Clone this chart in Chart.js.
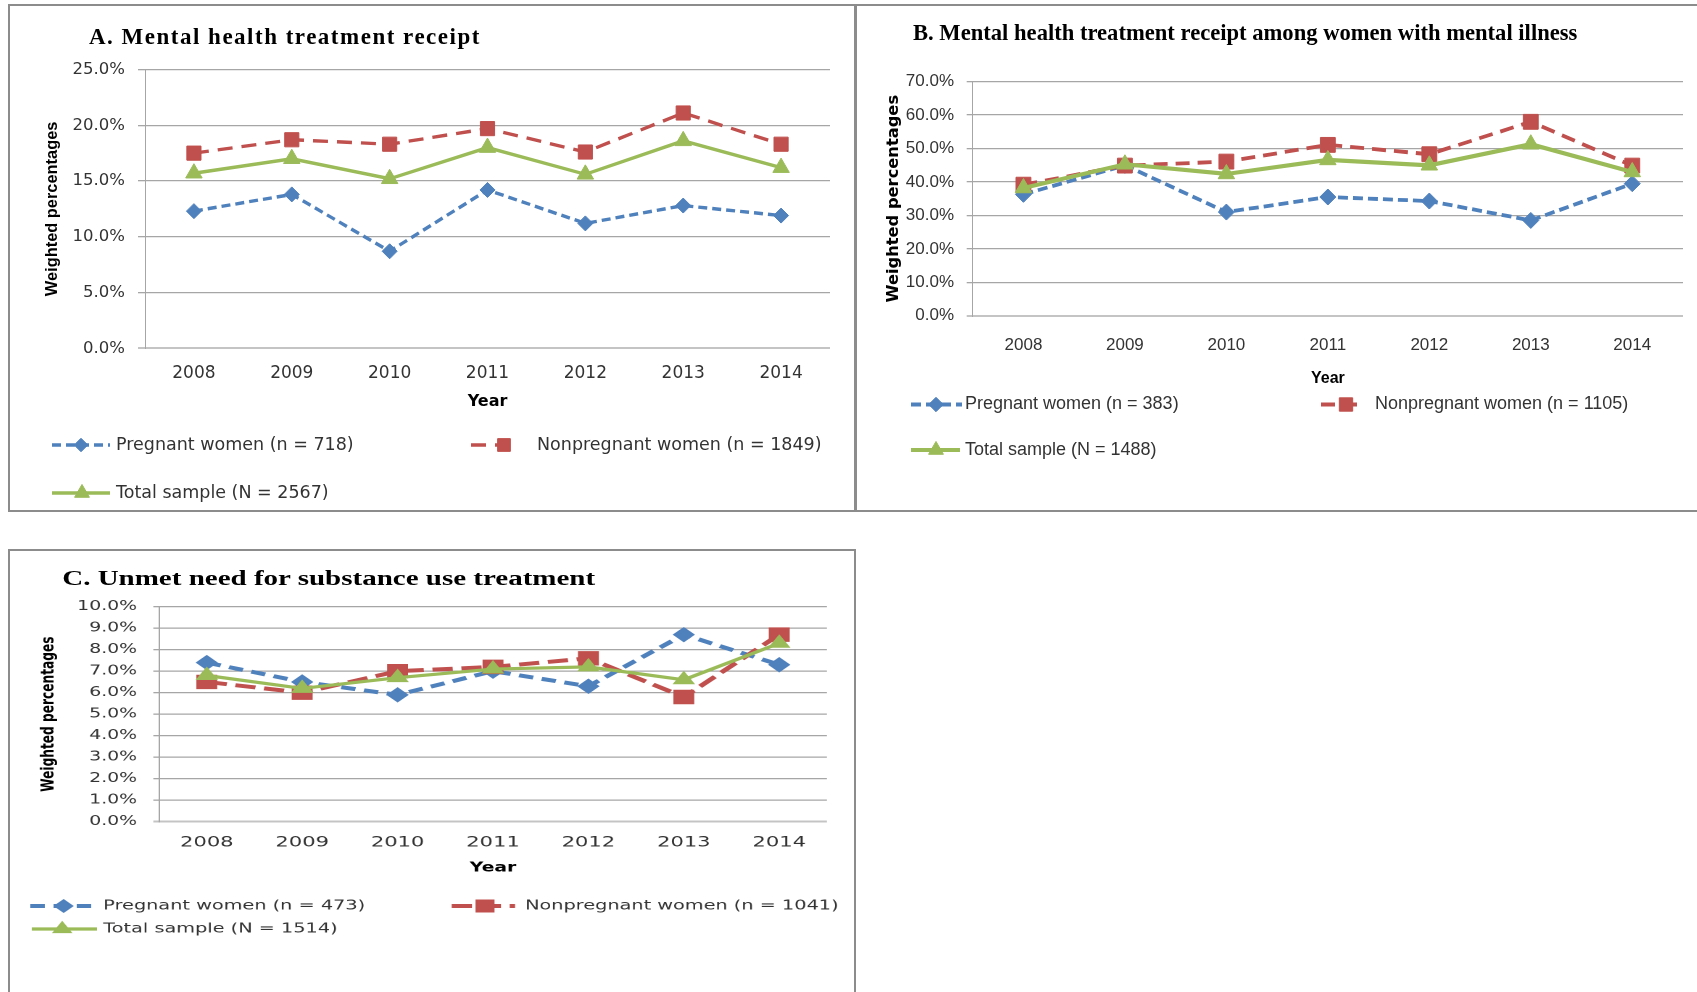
<!DOCTYPE html>
<html>
<head>
<meta charset="utf-8">
<script src="https://cdn.jsdelivr.net/npm/chart.js"></script>
<style>
  body { margin: 0; width: 1697px; height: 992px; overflow: hidden; background: #fff; position: relative; }
  .frame { position: absolute; box-sizing: border-box; border: 2px solid #8c8c8c; }
  .panel { position: absolute; }
  .panel canvas { position: absolute; left: 0; top: 0; }
  .title { position: absolute; white-space: nowrap; font-family: "Liberation Serif", serif; font-weight: bold; color: #000; }
  /* panel C of the source figure is stretched sideways, so draw it narrow and widen it */
  #panelC { transform: scaleX(1.45); transform-origin: 0 0; }
</style>
</head>
<body>
<div class="frame" style="left:8px;top:4px;width:848px;height:508px"></div>
<div class="frame" style="left:855px;top:4px;width:850px;height:508px"></div>
<div class="frame" style="left:8px;top:549px;width:848px;height:460px"></div>

<div class="panel" style="left:10px;top:6px;width:844px;height:505px">
  <canvas id="chartA" width="844" height="505"></canvas>
</div>
<div class="title" style="left:89px;top:25px;font-size:23px;line-height:23px;letter-spacing:1.5px">A. Mental health treatment receipt</div>

<div class="panel" style="left:857px;top:6px;width:840px;height:505px">
  <canvas id="chartB" width="840" height="505"></canvas>
</div>
<div class="title" style="left:913px;top:22px;font-size:22.6px;line-height:22.6px">B. Mental health treatment receipt among women with mental illness</div>

<div class="panel" id="panelC" style="left:10px;top:551px;width:582px;height:441px">
  <canvas id="chartC" width="582" height="441"></canvas>
  <div class="title" style="left:36px;top:17px;font-size:20px;line-height:20px">C. Unmet need for substance use treatment</div>
</div>

<script>
'use strict';

const years = ['2008', '2009', '2010', '2011', '2012', '2013', '2014'];

// A. Mental health treatment receipt (%)
const pregnantA = [12.3, 13.8, 8.7, 14.2, 11.2, 12.8, 11.9];
const nonpregnantA = [17.5, 18.7, 18.3, 19.7, 17.6, 21.1, 18.3];
const totalA = [15.7, 17.0, 15.2, 18.0, 15.6, 18.6, 16.2];
const labelsA = ['Pregnant women (n = 718)', 'Nonpregnant women (n = 1849)', 'Total sample (N = 2567)'];

// B. Mental health treatment receipt among women with mental illness (%)
const pregnantB = [36.3, 45.0, 31.0, 35.5, 34.3, 28.5, 39.5];
const nonpregnantB = [39.2, 44.9, 46.1, 51.1, 48.3, 58.0, 44.9];
const totalB = [38.2, 45.3, 42.4, 46.6, 45.0, 51.3, 43.0];
const labelsB = ['Pregnant women (n = 383)', 'Nonpregnant women (n = 1105)', 'Total sample (N = 1488)'];

// C. Unmet need for substance use treatment (%)
const pregnantC = [7.4, 6.5, 5.9, 7.0, 6.3, 8.7, 7.3];
const nonpregnantC = [6.5, 6.0, 7.0, 7.2, 7.6, 5.8, 8.7];
const totalC = [6.8, 6.2, 6.7, 7.1, 7.2, 6.6, 8.3];
const labelsC = ['Pregnant women (n = 473)', 'Nonpregnant women (n = 1041)', 'Total sample (N = 1514)'];

const BLUE = '#4F81BD';
const RED = '#C0504D';
const GREEN = '#9BBB59';
const GRID = '#a6a6a6';

/**
 * Excel style legend: a short piece of the series line with its marker in the middle.
 */
const lineLegend = {
    id: 'lineLegend',
    afterDraw: function (chart, args, opts) {
        const ctx = chart.ctx;
        ctx.save();
        chart.data.datasets.forEach((ds, i) => {
            const item = opts.items[i];
            ctx.strokeStyle = ds.borderColor;
            ctx.lineWidth = ds.borderWidth;
            ctx.setLineDash(ds.borderDash);
            ctx.beginPath();
            ctx.moveTo(item.x0, item.y);
            ctx.lineTo(item.x1, item.y);
            ctx.stroke();

            ctx.setLineDash([]);
            ctx.lineWidth = 1;
            ctx.fillStyle = ds.pointBackgroundColor;
            Chart.helpers.drawPoint(ctx, {
                pointStyle: ds.pointStyle,
                radius: ds.pointRadius * 0.9,
                borderWidth: 1,
                rotation: 0
            }, item.mx, item.y);

            ctx.fillStyle = opts.color;
            ctx.font = opts.font;
            ctx.textAlign = 'left';
            ctx.textBaseline = 'middle';
            ctx.fillText(ds.label, item.tx, item.y);
        });
        ctx.restore();
    }
};

function series(label, values, color, dash, style, radius, width, order) {
    return {
        label: label,
        data: values,
        borderColor: color,
        backgroundColor: color,
        borderWidth: width,
        borderDash: dash,
        borderCapStyle: 'butt',
        pointStyle: style,
        pointRadius: radius,
        pointHoverRadius: radius,
        pointBackgroundColor: color,
        pointBorderColor: color,
        pointBorderWidth: 1,
        tension: 0,
        fill: false,
        order: order
    };
}

function drawPanel(canvasId, p) {
    const tickFont = { family: p.font, size: p.tickSize };
    const xFont = { family: p.font, size: p.xSize };

    new Chart(document.getElementById(canvasId), {
        type: 'line',
        data: {
            labels: years,
            datasets: [
                series(p.labels[0], p.values[0], BLUE, p.blueDash, 'rectRot', p.diamond, p.lineWidth, 3),
                series(p.labels[1], p.values[1], RED, p.redDash, 'rect', p.square, p.lineWidth, 2),
                series(p.labels[2], p.values[2], GREEN, [], 'triangle', p.triangle, p.greenWidth, 1)
            ]
        },
        options: {
            responsive: false,
            animation: false,
            events: [],
            devicePixelRatio: p.dpr || 1,
            layout: {
                padding: { left: 0, top: p.top, right: p.right, bottom: p.bottom }
            },
            plugins: {
                legend: { display: false },
                tooltip: { enabled: false },
                lineLegend: {
                    font: p.legendSize + 'px "' + p.legendFont + '"',
                    color: '#333',
                    items: p.legendItems
                }
            },
            scales: {
                x: {
                    type: 'category',
                    offset: true,
                    grid: { display: false, drawTicks: false },
                    border: { display: false },
                    ticks: { color: '#333', font: xFont, padding: p.xPad, maxRotation: 0, autoSkip: false },
                    title: {
                        display: true,
                        text: 'Year',
                        color: '#000',
                        font: { family: p.font, size: p.yearSize, weight: 'bold' },
                        padding: 0
                    },
                    afterFit: function (scale) { scale.height = p.xHeight; }
                },
                y: {
                    min: 0,
                    max: p.max,
                    ticks: {
                        stepSize: p.step,
                        color: '#333',
                        font: tickFont,
                        padding: p.yPad,
                        callback: v => v.toFixed(1) + '%'
                    },
                    grid: {
                        color: ctx => ctx.tick && ctx.tick.value === 0 ? '#c4c4c4' : GRID,
                        lineWidth: ctx => ctx.tick && ctx.tick.value === 0 ? 2 : 1.3,
                        tickLength: p.tickLength,
                        drawTicks: true
                    },
                    border: { display: true, color: GRID, width: 1 },
                    title: {
                        display: true,
                        text: 'Weighted percentages',
                        color: '#000',
                        font: { family: p.yTitleFont, size: p.yTitleSize, weight: 'bold' },
                        padding: { top: p.yTitlePad, bottom: 0 }
                    },
                    afterFit: function (scale) { scale.width = p.yWidth; }
                }
            }
        },
        plugins: [lineLegend]
    });
}

drawPanel('chartA', {
    labels: labelsA,
    values: [pregnantA, nonpregnantA, totalA],
    max: 25, step: 5,
    font: 'DejaVu Sans', tickSize: 16.5, xSize: 17, yearSize: 16,
    yTitleFont: 'Liberation Sans', yTitleSize: 16.4, yTitlePad: 32.9,
    yWidth: 135, top: 63.5, right: 24, bottom: 99.1, xHeight: 63.6,
    yPad: 13, tickLength: 7, xPad: 14.8,
    lineWidth: 3.4, greenWidth: 3.4, blueDash: [9, 5], redDash: [15, 9],
    diamond: 7.5, square: 10, triangle: 9.5,
    legendFont: 'DejaVu Sans', legendSize: 17.5,
    legendItems: [
        { x0: 42, x1: 100, mx: 71, tx: 106, y: 439 },
        { x0: 461, x1: 508, mx: 494, tx: 527, y: 439 },
        { x0: 42, x1: 100, mx: 72, tx: 106, y: 487 }
    ]
});

drawPanel('chartB', {
    labels: labelsB,
    values: [pregnantB, nonpregnantB, totalB],
    max: 70, step: 10,
    font: 'Liberation Sans', tickSize: 17, xSize: 17, yearSize: 16,
    yTitleFont: 'DejaVu Sans', yTitleSize: 16.3, yTitlePad: 26.5,
    yWidth: 115.7, top: 75.7, right: 14, bottom: 122.7, xHeight: 72.6,
    yPad: 12.7, tickLength: 6, xPad: 19.1,
    lineWidth: 3.8, greenWidth: 4.2, blueDash: [10, 5], redDash: [14, 8],
    diamond: 8, square: 10.5, triangle: 9.5,
    legendFont: 'Liberation Sans', legendSize: 18,
    legendItems: [
        { x0: 54, x1: 105, mx: 79, tx: 108, y: 398.5 },
        { x0: 464, x1: 503, mx: 489, tx: 518, y: 398.5 },
        { x0: 54, x1: 103, mx: 79, tx: 108, y: 444 }
    ]
});

drawPanel('chartC', {
    labels: labelsC,
    values: [pregnantC, nonpregnantC, totalC],
    max: 10, step: 1,
    dpr: 2,
    font: 'DejaVu Sans', tickSize: 13, xSize: 14.5, yearSize: 13,
    yTitleFont: 'DejaVu Sans', yTitleSize: 12.2, yTitlePad: 19.6,
    yWidth: 102.8, top: 55.7, right: 18.6, bottom: 116.3, xHeight: 54,
    yPad: 11.2, tickLength: 4, xPad: 12.5,
    lineWidth: 4, greenWidth: 3.2, blueDash: [10, 6], redDash: [14, 6],
    diamond: 7, square: 9.5, triangle: 8,
    legendFont: 'DejaVu Sans', legendSize: 13.3,
    legendItems: [
        { x0: 14, x1: 58, mx: 37, tx: 64.3, y: 355 },
        { x0: 304.6, x1: 348.3, mx: 327.6, tx: 355.2, y: 355 },
        { x0: 15, x1: 60, mx: 36, tx: 64.3, y: 378 }
    ]
});
</script>
</body>
</html>
